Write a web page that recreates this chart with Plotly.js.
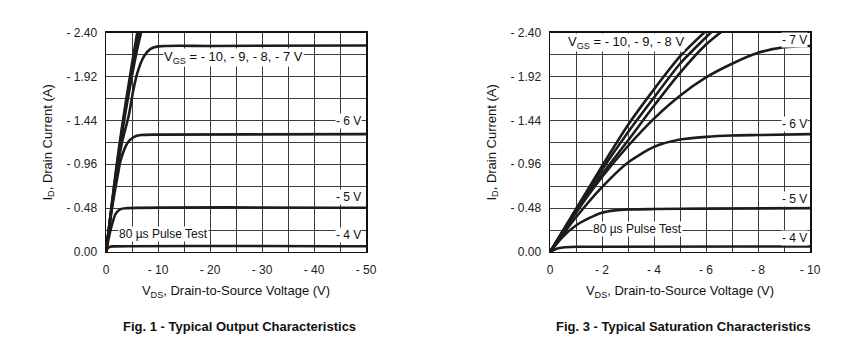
<!DOCTYPE html>
<html><head><meta charset="utf-8">
<script src="https://cdn.plot.ly/plotly-3.0.1.min.js"></script>
<style>html,body{margin:0;padding:0;background:#fff}#chart{width:862px;height:358px}</style>
</head><body><div id="chart"></div>
<script>
// ---------- Fig. 1 : Typical Output Characteristics (|VDS| 0..50 V) ----------
const fig1_m10_x = [0, 1, 2, 3, 4, 5, 6, 6.2];
const fig1_m10_y = [0, 0.47, 0.93, 1.34, 1.71, 2.06, 2.40, 2.46];
const fig1_m9_x  = [0, 1, 2, 3, 4, 5, 6, 6.6];
const fig1_m9_y  = [0, 0.46, 0.90, 1.30, 1.66, 1.99, 2.29, 2.46];
const fig1_m8_x  = [0, 1, 2, 3, 4, 5, 6, 7];
const fig1_m8_y  = [0, 0.45, 0.88, 1.27, 1.61, 1.93, 2.22, 2.46];
const fig1_m7_x  = [0, 1, 2, 3, 4.4, 5.25, 6, 7.3, 8.5, 10, 20, 50];
const fig1_m7_y  = [0, 0.44, 0.84, 1.18, 1.50, 1.77, 1.955, 2.14, 2.22, 2.25, 2.255, 2.26];
const fig1_m6_x  = [0, 1, 1.5, 2.2, 2.8, 4.1, 5.4, 6.7, 10, 50];
const fig1_m6_y  = [0, 0.42, 0.60, 0.82, 1.00, 1.19, 1.26, 1.28, 1.285, 1.29];
const fig1_m5_x  = [0, 0.6, 1.2, 1.87, 2.8, 4, 50];
const fig1_m5_y  = [0, 0.17, 0.31, 0.42, 0.47, 0.48, 0.485];
const fig1_m4_x  = [0, 0.3, 0.8, 1.5, 50];
const fig1_m4_y  = [0, 0.04, 0.058, 0.062, 0.063];

// ---------- Fig. 3 : Typical Saturation Characteristics (|VDS| 0..10 V) ----------
const fig3_m10_x = [0, 1, 2, 3, 4, 5, 6, 6.2];
const fig3_m10_y = [0, 0.47, 0.94, 1.39, 1.78, 2.14, 2.42, 2.47];
const fig3_m9_x  = [0, 1, 2, 3, 4, 5, 6, 6.4];
const fig3_m9_y  = [0, 0.46, 0.90, 1.31, 1.69, 2.06, 2.35, 2.46];
const fig3_m8_x  = [0, 1, 2, 3, 4, 5, 6, 7];
const fig3_m8_y  = [0, 0.44, 0.85, 1.22, 1.60, 1.96, 2.27, 2.50];
const fig3_m7_x  = [0, 1, 2, 3, 4, 5, 6, 7, 8, 9, 10];
const fig3_m7_y  = [0, 0.43, 0.82, 1.16, 1.46, 1.71, 1.91, 2.06, 2.18, 2.24, 2.255];
const fig3_m6_x  = [0, 1, 2, 3, 4, 5, 6, 7, 8, 10];
const fig3_m6_y  = [0, 0.38, 0.71, 0.98, 1.15, 1.23, 1.26, 1.275, 1.28, 1.29];
const fig3_m5_x  = [0, 0.5, 1, 1.5, 2, 2.5, 3, 4, 6, 10];
const fig3_m5_y  = [0, 0.17, 0.29, 0.37, 0.43, 0.455, 0.465, 0.47, 0.475, 0.48];
const fig3_m4_x  = [0, 0.25, 0.5, 1, 2, 10];
const fig3_m4_y  = [0, 0.035, 0.05, 0.057, 0.058, 0.06];

// ---------- ticks ----------
const fig1XTickVals = [0, 10, 20, 30, 40, 50];
const fig1XTickText = ['0', '- 10', '- 20', '- 30', '- 40', '- 50'];
const fig1XGridStep = 5;
const fig3XTickVals = [0, 2, 4, 6, 8, 10];
const fig3XTickText = ['0', '- 2', '- 4', '- 6', '- 8', '- 10'];
const fig3XGridStep = 1;
const yTickVals = [0, 0.48, 0.96, 1.44, 1.92, 2.40];
const yTickText = ['0.00', '- 0.48', '- 0.96', '- 1.44', '- 1.92', '- 2.40'];
const yGridStep = 0.24;

const FONT = 'Liberation Sans, Arial, Helvetica, sans-serif';
const INK = '#1c1c1c';
const GRID = '#3c3c3c';

function curve(x, y, xa, ya) {
  return {x: x, y: y, xaxis: xa, yaxis: ya, type: 'scatter', mode: 'lines',
    line: {color: INK, width: 2.6, shape: 'spline', smoothing: 0.7},
    hoverinfo: 'skip', showlegend: false};
}

const traces = [
  curve(fig1_m10_x, fig1_m10_y, 'x', 'y'),
  curve(fig1_m9_x, fig1_m9_y, 'x', 'y'),
  curve(fig1_m8_x, fig1_m8_y, 'x', 'y'),
  curve(fig1_m7_x, fig1_m7_y, 'x', 'y'),
  curve(fig1_m6_x, fig1_m6_y, 'x', 'y'),
  curve(fig1_m5_x, fig1_m5_y, 'x', 'y'),
  curve(fig1_m4_x, fig1_m4_y, 'x', 'y'),
  curve(fig3_m10_x, fig3_m10_y, 'x2', 'y2'),
  curve(fig3_m9_x, fig3_m9_y, 'x2', 'y2'),
  curve(fig3_m8_x, fig3_m8_y, 'x2', 'y2'),
  curve(fig3_m7_x, fig3_m7_y, 'x2', 'y2'),
  curve(fig3_m6_x, fig3_m6_y, 'x2', 'y2'),
  curve(fig3_m5_x, fig3_m5_y, 'x2', 'y2'),
  curve(fig3_m4_x, fig3_m4_y, 'x2', 'y2')
];

function xaxis(domain, range, vals, text, step, anchor) {
  return {domain: domain, range: range, anchor: anchor, tickmode: 'array', tickvals: vals, ticktext: text,
    showgrid: true, gridcolor: GRID, gridwidth: 1, zeroline: false,
    minor: {tick0: 0, dtick: step, showgrid: true, gridcolor: GRID, gridwidth: 1, ticks: ''},
    showline: true, mirror: true, linecolor: '#111', linewidth: 1.5, ticks: '',
    ticklabelstandoff: 6, tickfont: {family: FONT, size: 12, color: '#222'},
    title: {text: 'V<sub>DS</sub>, Drain-to-Source Voltage (V)', font: {family: FONT, size: 13, color: '#111'}, standoff: 10},
    fixedrange: true};
}
function yaxis(domain, anchor) {
  return {domain: domain, range: [0, 2.4], anchor: anchor, tickmode: 'array', tickvals: yTickVals, ticktext: yTickText,
    showgrid: true, gridcolor: GRID, gridwidth: 1, zeroline: false,
    minor: {tick0: 0, dtick: yGridStep, showgrid: true, gridcolor: GRID, gridwidth: 1, ticks: ''},
    showline: true, mirror: true, linecolor: '#111', linewidth: 1.5, ticks: '',
    ticklabelstandoff: 5, tickfont: {family: FONT, size: 12, color: '#222'},
    title: {text: 'I<sub>D</sub>, Drain Current (A)', font: {family: FONT, size: 13, color: '#111'}, standoff: 11},
    fixedrange: true};
}

const yDom = [0.2961, 0.9087];

function lab(text, x, y, xref, yref, extra) {
  return Object.assign({text: text, x: x, y: y, xref: xref, yref: yref, showarrow: false,
    xanchor: 'center', yanchor: 'middle',
    bgcolor: '#ffffff', borderpad: 0, font: {family: FONT, size: 12, color: '#111'}}, extra || {});
}

const annotations = [
  lab('V<sub>GS</sub> = - 10, - 9, - 8, - 7 V', 24.6, 2.13, 'x', 'y', {font: {family: FONT, size: 13, color: '#111'}}),
  lab('- 6 V', 46.6, 1.43, 'x', 'y'),
  lab('- 5 V', 46.6, 0.60, 'x', 'y'),
  lab('- 4 V', 46.6, 0.19, 'x', 'y'),
  lab('80 µs Pulse Test', 11.1, 0.20, 'x', 'y'),
  lab('V<sub>GS</sub> = - 10, - 9, - 8 V', 2.92, 2.29, 'x2', 'y2', {font: {family: FONT, size: 13, color: '#111'}}),
  lab('- 7 V', 9.42, 2.32, 'x2', 'y2'),
  lab('- 6 V', 9.42, 1.40, 'x2', 'y2'),
  lab('- 5 V', 9.42, 0.58, 'x2', 'y2'),
  lab('- 4 V', 9.42, 0.15, 'x2', 'y2'),
  lab('80 µs Pulse Test', 3.35, 0.25, 'x2', 'y2'),
  {text: '<b>Fig. 1 - Typical Output Characteristics</b>', x: 239 / 862, y: (358 - 326) / 358, xref: 'paper', yref: 'paper',
    xanchor: 'center', yanchor: 'middle', showarrow: false, font: {family: FONT, size: 13, color: '#111'}},
  {text: '<b>Fig. 3 - Typical Saturation Characteristics</b>', x: 683 / 862, y: (358 - 326) / 358, xref: 'paper', yref: 'paper',
    xanchor: 'center', yanchor: 'middle', showarrow: false, font: {family: FONT, size: 13, color: '#111'}}
];

const layout = {
  width: 862, height: 358, margin: {l: 0, r: 0, t: 0, b: 0},
  paper_bgcolor: '#ffffff', plot_bgcolor: '#ffffff',
  font: {family: FONT, color: '#111'},
  showlegend: false,
  xaxis: xaxis([106 / 862, 366 / 862], [0, 50], fig1XTickVals, fig1XTickText, fig1XGridStep, 'y'),
  yaxis: yaxis(yDom, 'x'),
  xaxis2: xaxis([550 / 862, 810 / 862], [0, 10], fig3XTickVals, fig3XTickText, fig3XGridStep, 'y2'),
  yaxis2: yaxis(yDom, 'x2'),
  annotations: annotations
};

Plotly.newPlot('chart', traces, layout, {staticPlot: true, displayModeBar: false});
</script></body></html>
